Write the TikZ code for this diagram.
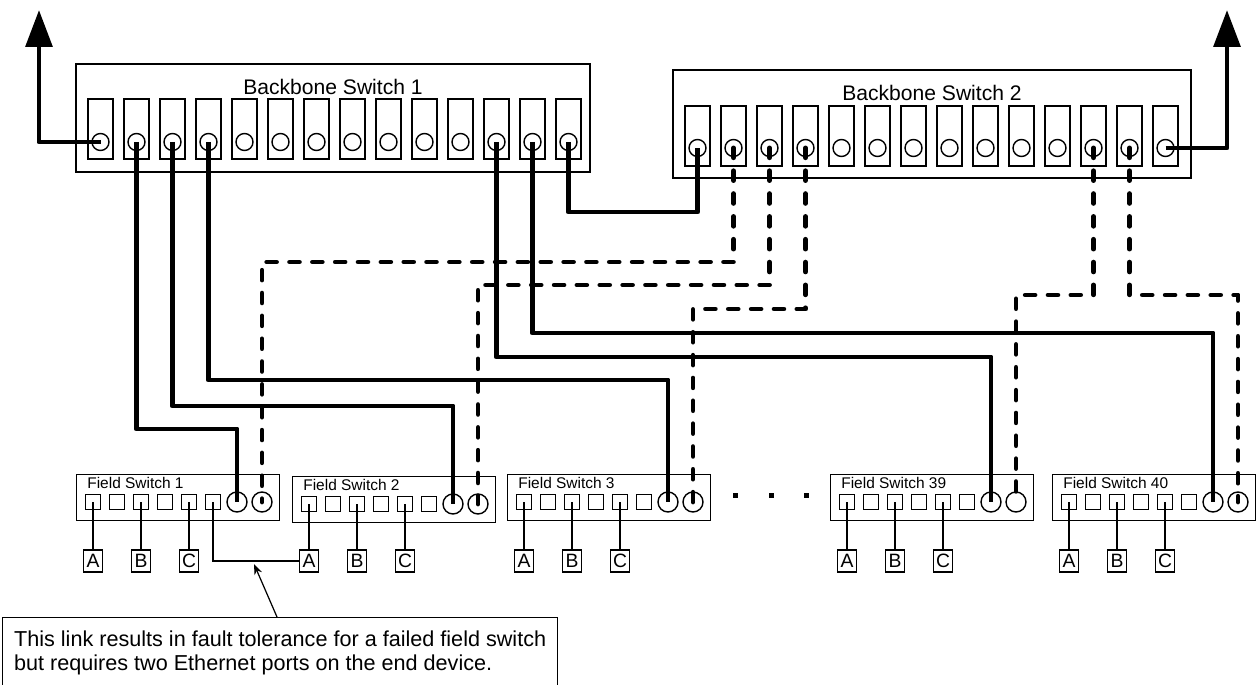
\documentclass[tikz,border=0pt]{standalone}
\usepackage{fontspec}
\setmainfont{Liberation Sans}
\usetikzlibrary{arrows.meta}

\begin{document}
\begin{tikzpicture}[
      x=0.02cm, y=-0.02cm,
      every node/.style={inner sep=0pt},
      bbbox/.style={rectangle, draw, line width=0.8pt, minimum height=2.16cm},
      bbtitle/.style={font=\fontsize{12}{14}\selectfont},
      bbport/.style={rectangle, draw, line width=0.8pt, minimum width=0.5cm, minimum height=1.2cm},
      bbjack/.style={circle, draw, line width=0.8pt, minimum size=0.34cm},
      fsbox/.style={rectangle, draw, line width=0.8pt, anchor=north west, minimum width=4.06cm, minimum height=0.92cm},
      fstitle/.style={anchor=west, font=\fontsize{8.8}{10}\selectfont},
      fsport/.style={rectangle, draw, line width=0.8pt, minimum size=0.3cm},
      fsjack/.style={circle, draw, line width=0.8pt, minimum size=0.4cm},
      device/.style={rectangle, draw, line width=0.8pt, minimum width=0.37cm, minimum height=0.44cm, font=\fontsize{11}{12}\selectfont},
      notebox/.style={rectangle, draw, line width=0.8pt, anchor=north west, align=left, minimum width=11.1cm, minimum height=1.4cm, font=\fontsize{12.3}{13.6}\selectfont},
      trunk/.style={line width=2.8pt, line join=round},
      backup/.style={trunk, line cap=round, dash pattern=on 5.5pt off 7.5pt},
      uplink/.style={trunk, -{Triangle[length=21pt, width=15pt]}},
      devlink/.style={line width=0.7pt},
      pointer/.style={line width=0.7pt, -{Stealth[length=6pt, width=4.5pt]}}
    ]
      \useasboundingbox (0,0) rectangle (1257,685);
      \clip (0,0) rectangle (1257,685);

      % Backbone switches
      \node[bbbox, minimum width=10.28cm] (bs1) at (333,118) {};
      \node[bbtitle] (bs1-t) at (333,87) {Backbone Switch 1};
      \node[bbbox, minimum width=10.36cm] (bs2) at (932,124) {};
      \node[bbtitle] (bs2-t) at (932,93) {Backbone Switch 2};
      \foreach \i in {1,...,14} {
        \node[bbport] (bs1-p\i) at ({100.5+36*(\i-1)},129) {};
        \node[bbjack] (bs1-j\i) at ({100.5+36*(\i-1)},142) {};
        \node[bbport] (bs2-p\i) at ({697.5+36*(\i-1)},136) {};
        \node[bbjack] (bs2-j\i) at ({697.5+36*(\i-1)},148) {};
      }

      % Field switches with end devices
      \foreach \n/\X/\Y in {1/76/474, 2/292/476, 3/507/474, 39/830/474, 40/1052/474} {
        \node[fsbox] (fs\n) at (\X,\Y) {};
        \node[fstitle] (fs\n-t) at ({\X+11},{\Y+9}) {Field Switch \n};
        \foreach \k in {1,...,6}
          \node[fsport] (fs\n-s\k) at ({\X+17+24*(\k-1)},{\Y+28}) {};
        \node[fsjack] (fs\n-j1) at ({\X+161},{\Y+28}) {};
        \node[fsjack] (fs\n-j2) at ({\X+186},{\Y+28}) {};
        \node[device] (fs\n-A) at ({\X+17},561) {A};
        \node[device] (fs\n-B) at ({\X+65},561) {B};
        \node[device] (fs\n-C) at ({\X+113},561) {C};
        \draw[devlink] (fs\n-s1.center) -- (fs\n-A);
        \draw[devlink] (fs\n-s3.center) -- (fs\n-B);
        \draw[devlink] (fs\n-s5.center) -- (fs\n-C);
      }
      \foreach \x in {735,771,806}
        \fill ({\x-2.5},492.5) rectangle ++(5,5);

      % Uplinks
      \coordinate (out1) at (39,10);
      \coordinate (out2) at (1227,10);
      \draw[uplink] (bs1-j1.center) -| (out1);
      \draw[uplink] (bs2-j14.center) -| (out2);
      \draw[trunk] (bs1-j14.center) -- ++(0,70) -| (bs2-j1.center);

      % Primary links from Backbone Switch 1
      \draw[trunk] (bs1-j2.center) -- ++(0,287) -| (fs1-j1.center);
      \draw[trunk] (bs1-j3.center) -- ++(0,264) -| (fs2-j1.center);
      \draw[trunk] (bs1-j4.center) -- ++(0,238) -| (fs3-j1.center);
      \draw[trunk] (bs1-j12.center) -- ++(0,215) -| (fs39-j1.center);
      \draw[trunk] (bs1-j13.center) -- ++(0,191) -| (fs40-j1.center);

      % Backup links from Backbone Switch 2
      \draw[backup] (bs2-j2.center) -- ++(0,114) -| (fs1-j2.center);
      \draw[backup] (bs2-j3.center) -- ++(0,137) -| (fs2-j2.center);
      \draw[backup] (bs2-j4.center) -- ++(0,161) -| (fs3-j2.center);
      \draw[backup] (bs2-j12.center) -- ++(0,147) -| (fs39-j2.center);
      \draw[backup] (bs2-j13.center) -- ++(0,147) -| (fs40-j2.center);

      % Dual-homed device and note
      \draw[devlink] (fs1-s6.center) |- (fs2-A);
      \coordinate (linkmark) at (254,564);
      \node[notebox] (note) at (2,617) {This link results in fault tolerance for a failed field switch\\but requires two Ethernet ports on the end device.};
      \draw[pointer] (note.north west) ++(275,0) -- (linkmark);
    \end{tikzpicture}
\end{document}
